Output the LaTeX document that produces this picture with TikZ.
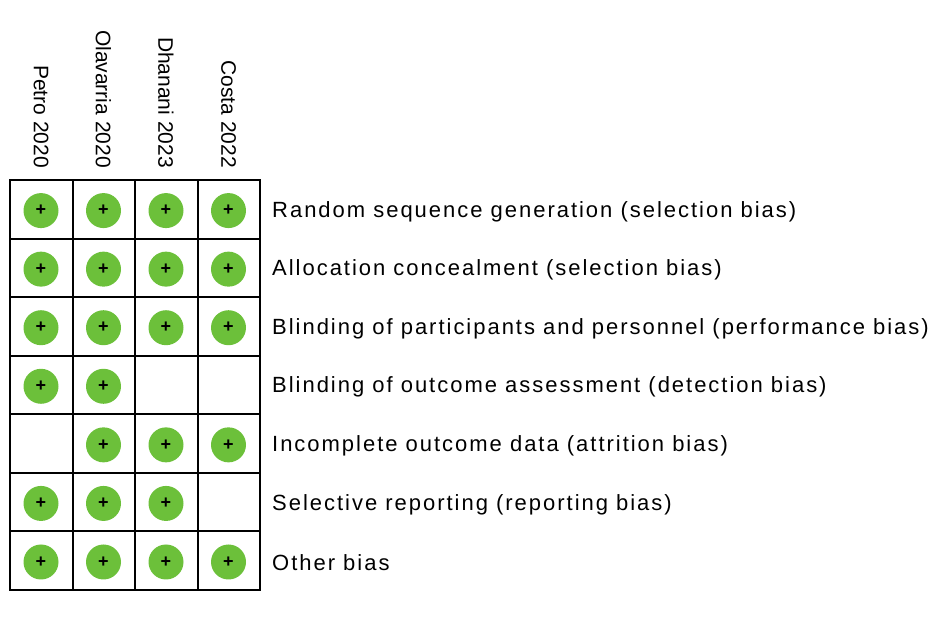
\documentclass[tikz,border=0pt]{standalone}
\usepackage{fontspec}
\setmainfont{Liberation Sans}
\newfontfamily\widefont[LetterSpace=9]{Liberation Sans}
\begin{document}
\begin{tikzpicture}[x=1pt,y=-1pt,
  lbl/.style={anchor=west,font=\widefont\fontsize{22}{24}\selectfont,inner sep=0},
  hdr/.style={anchor=east,rotate=-90,font=\fontsize{21}{24}\selectfont,inner sep=0},
  dot/.style={circle,fill={rgb,255:red,108;green,192;blue,58},minimum size=35pt,inner sep=0,font=\bfseries\fontsize{18}{18}\selectfont}]
\useasboundingbox (0,0) rectangle (935,622);
\draw[line width=2pt] (10,180) rectangle (260,590);
\foreach \x in {72.5,135,197.5} \draw[line width=2pt] (\x,180) -- (\x,590);
\foreach \i in {1,...,6} \draw[line width=2pt] (10,180+\i*58.57) -- (260,180+\i*58.57);
\node[hdr] (h1) at (41,168) {Petro 2020};
\node[hdr] (h2) at (103.5,168) {Olavarria 2020};
\node[hdr] (h3) at (166,168) {Dhanani 2023};
\node[hdr] (h4) at (228.5,168) {Costa 2022};
\foreach \t [count=\r] in {Random sequence generation (selection bias),Allocation concealment (selection bias),Blinding of participants and personnel (performance bias),Blinding of outcome assessment (detection bias),Incomplete outcome data (attrition bias),Selective reporting (reporting bias),Other bias}
  \node[lbl] (l\r) at (272,180+\r*58.57-27) {\t};
\foreach \r/\c in {1/1,1/2,1/3,1/4,2/1,2/2,2/3,2/4,3/1,3/2,3/3,3/4,4/1,4/2,5/2,5/3,5/4,6/1,6/2,6/3,7/1,7/2,7/3,7/4}
  \node[dot] (d\r\c) at (41+\c*62.5-62.5,180+\r*58.57-28) {+};
\end{tikzpicture}
\end{document}
